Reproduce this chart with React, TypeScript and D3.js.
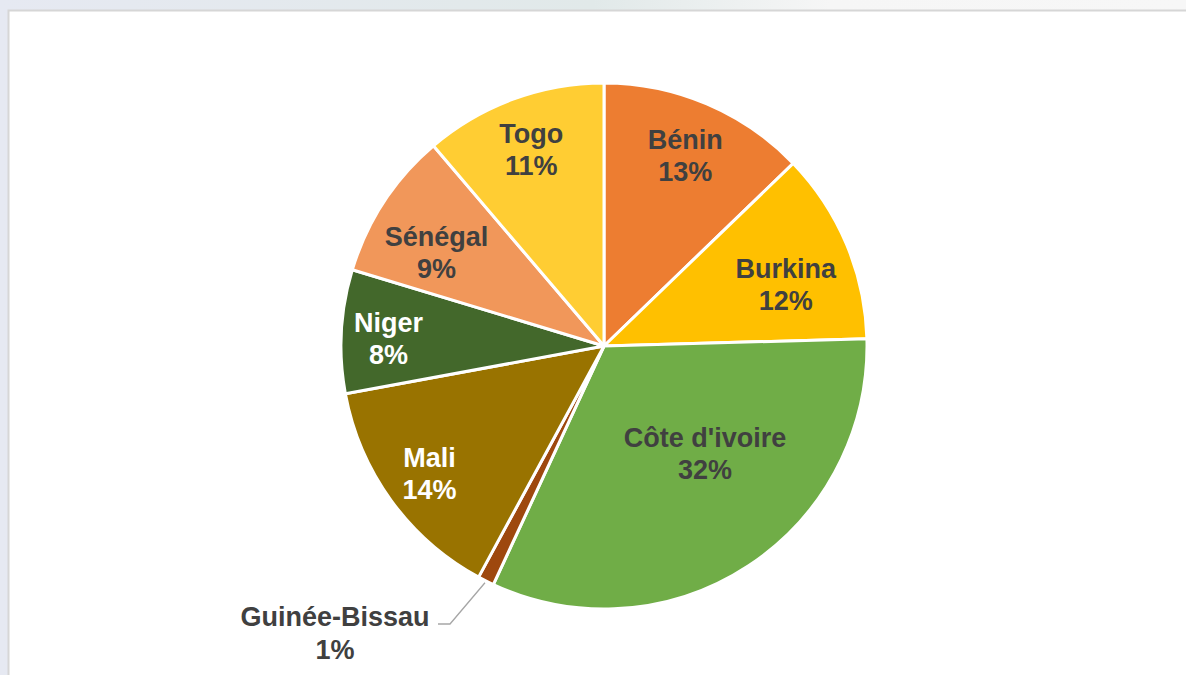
import React from "react";
import * as d3 from "d3";

// share of each country (percent)
const countries = ["Bénin", "Burkina", "Côte d'ivoire", "Guinée-Bissau", "Mali", "Niger", "Sénégal", "Togo"];
const shares = [12.8, 11.8, 32.4, 1.0, 14.2, 7.6, 9.1, 11.25];
const colors = ["#ED7D31", "#FFC000", "#70AD47", "#9E480E", "#997300", "#43682B", "#F1975A", "#FFCD33"];
const labelColors = ["#404040", "#404040", "#404040", "#404040", "#ffffff", "#ffffff", "#404040", "#404040"];

// label placement: fraction of radius and angle nudge (deg)
const labelRadius = [0.79, 0.73, 0.56, 0, 0.82, 0.82, 0.73, 0.8];
const labelNudge = [0, 4, -10, 0, 0, -1, -4, 0];

const W = 1186;
const H = 675;

export default function App() {
  const cx = 604;
  const cy = 346;
  const r = 263;

  const data = countries.map((name, i) => ({ name, value: shares[i], i }));
  const pie = d3
    .pie<{ name: string; value: number; i: number }>()
    .sort(null)
    .value((d) => d.value);
  const arcs = pie(data);
  const arc = d3.arc<d3.PieArcDatum<any>>().innerRadius(0).outerRadius(r);
  const fmt = (v: number) => `${Math.round(v)}%`;

  const polar = (a: number, rr: number): [number, number] => [cx + rr * Math.sin(a), cy - rr * Math.cos(a)];

  return (
    <svg
      width={W}
      height={H}
      style={{ position: "fixed", left: 0, top: 0, display: "block" }}
      fontFamily="'Liberation Sans', Arial, sans-serif"
    >
      <defs>
        <linearGradient id="bg" x1="0" x2="1" y1="0" y2="0">
          <stop offset="0" stopColor="#e6e9f2" />
          <stop offset="0.5" stopColor="#e1e9e9" />
          <stop offset="0.7" stopColor="#f6f6f6" />
          <stop offset="1" stopColor="#f7f7f7" />
        </linearGradient>
      </defs>
      <rect width={W} height={H} fill="url(#bg)" />
      <rect x={8.5} y={10.5} width={W} height={H} fill="#ffffff" stroke="#d6d6d6" strokeWidth={2} />

      <g transform={`translate(${cx},${cy})`}>
        {arcs.map((a, i) => (
          <path key={i} d={arc(a) as string} fill={colors[i]} stroke="#ffffff" strokeWidth={3} strokeLinejoin="round" />
        ))}
      </g>

      {arcs.map((a, i) => {
        const d = a.data;
        if (d.name === "Guinée-Bissau") {
          const mid = (a.startAngle + a.endAngle) / 2;
          const [x0, y0] = polar(mid, r + 2);
          const elbowX = 450;
          const elbowY = 624;
          return (
            <g key={i}>
              <polyline
                points={`${x0},${y0} ${elbowX},${elbowY} ${elbowX - 12},${elbowY}`}
                fill="none"
                stroke="#a6a6a6"
                strokeWidth={1.3}
              />
              <text
                x={335}
                textAnchor="middle"
                fontSize={27}
                fontWeight="bold"
                fill={labelColors[i]}
              >
                <tspan x={335} y={626}>{d.name}</tspan>
                <tspan x={335} y={659}>{fmt(d.value)}</tspan>
              </text>
            </g>
          );
        }
        const mid = (a.startAngle + a.endAngle) / 2 + (labelNudge[i] * Math.PI) / 180;
        const [lx, ly] = polar(mid, r * labelRadius[i]);
        return (
          <text key={i} textAnchor="middle" fontSize={27} fontWeight="bold" fill={labelColors[i]}>
            <tspan x={lx} y={ly - 6}>{d.name}</tspan>
            <tspan x={lx} y={ly + 26}>{fmt(d.value)}</tspan>
          </text>
        );
      })}
    </svg>
  );
}
